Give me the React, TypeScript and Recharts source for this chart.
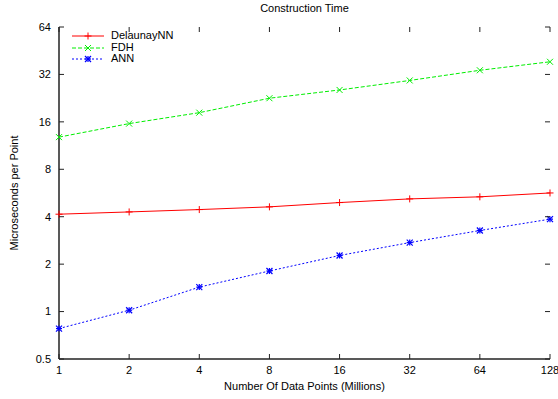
import { Line, LineChart, XAxis, YAxis } from 'recharts';

// Construction time per point, log2 / log2 axes (gnuplot-style figure).

const sizes = [1, 2, 4, 8, 16, 32, 64, 128];
const delaunayNN = [4.15, 4.29, 4.44, 4.62, 4.92, 5.19, 5.35, 5.66];
const fdh = [12.8, 15.6, 18.3, 22.6, 25.5, 29.3, 34.0, 38.5];
const ann = [0.78, 1.02, 1.43, 1.81, 2.27, 2.74, 3.27, 3.86];
const xTicks = [1, 2, 4, 8, 16, 32, 64, 128];
const yTicks = [0.5, 1, 2, 4, 8, 16, 32, 64];

const FONT = '"Liberation Sans", Arial, Helvetica, sans-serif';
const FRAME = '#222';

// plot box (px), used for the inward tick marks on all four sides
const W = 558;
const H = 399;
const M = { top: 27, right: 8, left: 59, bottom: 40 };
const PLOT_TOP = M.top;
const PLOT_BOTTOM = H - M.bottom;
const PLOT_LEFT = M.left;
const PLOT_RIGHT = W - M.right;
const TICK = 5;
const X_MARGIN = 7;
const Y_MARGIN = 8;

type MarkProps = { cx?: number; cy?: number; color: string };

function PlusMark({ cx = 0, cy = 0, color }: MarkProps) {
  const r = 3.5;
  return (
    <g stroke={color} strokeWidth={1}>
      <line x1={cx - r} y1={cy} x2={cx + r} y2={cy} />
      <line x1={cx} y1={cy - r} x2={cx} y2={cy + r} />
    </g>
  );
}

function CrossMark({ cx = 0, cy = 0, color }: MarkProps) {
  const r = 3;
  return (
    <g stroke={color} strokeWidth={1}>
      <line x1={cx - r} y1={cy - r} x2={cx + r} y2={cy + r} />
      <line x1={cx - r} y1={cy + r} x2={cx + r} y2={cy - r} />
    </g>
  );
}

function StarMark({ cx = 0, cy = 0, color }: MarkProps) {
  const r = 3;
  return (
    <g stroke={color} strokeWidth={1.2}>
      <line x1={cx - r} y1={cy} x2={cx + r} y2={cy} />
      <line x1={cx} y1={cy - r} x2={cx} y2={cy + r} />
      <line x1={cx - r} y1={cy - r} x2={cx + r} y2={cy + r} />
      <line x1={cx - r} y1={cy + r} x2={cx + r} y2={cy - r} />
    </g>
  );
}

const series = [
  { key: 'delaunay', name: 'DelaunayNN', values: delaunayNN, color: '#ff0000', dash: undefined, Mark: PlusMark },
  { key: 'fdh', name: 'FDH', values: fdh, color: '#00ee00', dash: '4 2', Mark: CrossMark },
  { key: 'ann', name: 'ANN', values: ann, color: '#0000ff', dash: '2 2', Mark: StarMark },
];

// plot on log2 of both values
const data = sizes.map((s, i) => {
  const row: Record<string, number> = { lx: Math.log2(s) };
  series.forEach((se) => {
    row[se.key] = Math.log2(se.values[i]);
  });
  return row;
});

const lxTicks = xTicks.map((t) => Math.log2(t));
const lyTicks = yTicks.map((t) => Math.log2(t));
const fmt = (v: number) => String(Math.pow(2, v));

function XTick({ x, y, payload }: any) {
  return (
    <g>
      <line x1={x} y1={PLOT_BOTTOM} x2={x} y2={PLOT_BOTTOM - TICK} stroke={FRAME} />
      <line x1={x} y1={PLOT_TOP} x2={x} y2={PLOT_TOP + TICK} stroke={FRAME} />
      <text x={x} y={y} dy="0.71em" textAnchor="middle" fontSize={11} fontFamily={FONT} fill="#000">
        {fmt(payload.value)}
      </text>
    </g>
  );
}

function YTick({ x, y, payload }: any) {
  return (
    <g>
      <line x1={PLOT_LEFT} y1={y} x2={PLOT_LEFT + TICK} y2={y} stroke={FRAME} />
      <line x1={PLOT_RIGHT} y1={y} x2={PLOT_RIGHT - TICK} y2={y} stroke={FRAME} />
      <text x={x} y={y} dy="0.355em" textAnchor="end" fontSize={11} fontFamily={FONT} fill="#000">
        {fmt(payload.value)}
      </text>
    </g>
  );
}

export default function App() {
  return (
    <div style={{ position: 'absolute', left: 0, top: 0, width: W, height: H, background: '#fff', fontFamily: FONT }}>
      <LineChart width={W} height={H} data={data} margin={{ top: M.top, right: M.right, bottom: 0, left: 0 }}>
        <XAxis
          xAxisId="b"
          dataKey="lx"
          type="number"
          domain={[0, 7]}
          ticks={lxTicks}
          interval={0}
          tickLine={false}
          tickSize={0}
          tickMargin={X_MARGIN}
          height={M.bottom}
          tick={<XTick />}
          axisLine={{ stroke: FRAME, strokeWidth: 1.5 }}
        />
        <XAxis
          xAxisId="t"
          orientation="top"
          type="number"
          domain={[0, 7]}
          height={0}
          tick={false}
          tickLine={false}
          axisLine={{ stroke: FRAME, strokeWidth: 1.5 }}
        />
        <YAxis
          yAxisId="l"
          type="number"
          domain={[-1, 6]}
          ticks={lyTicks}
          interval={0}
          tickLine={false}
          tickSize={0}
          tickMargin={Y_MARGIN}
          width={M.left}
          tick={<YTick />}
          axisLine={{ stroke: FRAME, strokeWidth: 1.5 }}
        />
        <YAxis
          yAxisId="r"
          orientation="right"
          type="number"
          domain={[-1, 6]}
          width={0}
          tick={false}
          tickLine={false}
          axisLine={{ stroke: FRAME, strokeWidth: 1.5 }}
        />
        {series.map((se) => (
          <Line
            key={se.key}
            xAxisId="b"
            yAxisId="l"
            dataKey={se.key}
            name={se.name}
            type="linear"
            stroke={se.color}
            strokeWidth={1}
            strokeDasharray={se.dash}
            dot={(p: any) => <se.Mark key={`${se.key}-${p.index}`} cx={p.cx} cy={p.cy} color={se.color} />}
            activeDot={false}
            isAnimationActive={false}
          />
        ))}
      </LineChart>

      {/* title */}
      <div style={{ position: 'absolute', left: PLOT_LEFT, width: PLOT_RIGHT - PLOT_LEFT, top: 2, textAlign: 'center', fontSize: 11, color: '#000' }}>
        Construction Time
      </div>

      {/* x label */}
      <div style={{ position: 'absolute', left: PLOT_LEFT, width: PLOT_RIGHT - PLOT_LEFT, top: 380, textAlign: 'center', fontSize: 11, color: '#000' }}>
        Number Of Data Points (Millions)
      </div>

      {/* y label */}
      <div
        style={{
          position: 'absolute',
          left: 14,
          top: 193,
          transform: 'translate(-50%, -50%) rotate(-90deg)',
          whiteSpace: 'nowrap',
          fontSize: 11,
          color: '#000',
        }}
      >
        Microseconds per Point
      </div>

      {/* legend */}
      <div style={{ position: 'absolute', left: 72, top: 30, fontSize: 11, color: '#000' }}>
        {series.map((se) => (
          <div key={se.key} style={{ display: 'flex', alignItems: 'center', height: 11.7 }}>
            <svg width={32} height={10} style={{ display: 'block' }}>
              <line x1={0} y1={5} x2={32} y2={5} stroke={se.color} strokeWidth={1} strokeDasharray={se.dash} />
              <se.Mark cx={16} cy={5} color={se.color} />
            </svg>
            <span style={{ marginLeft: 7, lineHeight: '11.7px' }}>{se.name}</span>
          </div>
        ))}
      </div>
    </div>
  );
}
